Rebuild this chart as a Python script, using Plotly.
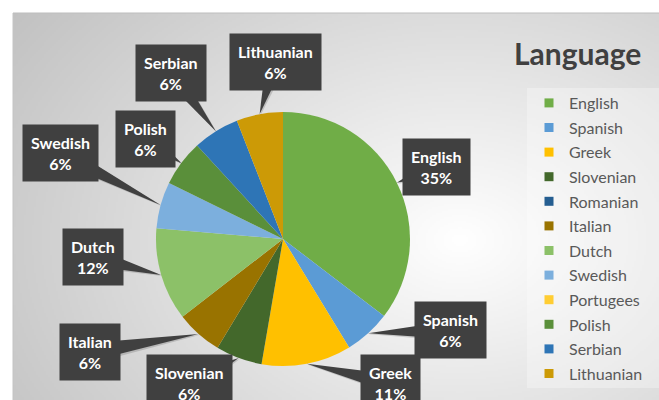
import math, zlib, struct, base64
import numpy as np
import plotly.graph_objects as go

# ---------------- data ----------------
languages = ["English", "Spanish", "Greek", "Slovenian", "Romanian", "Italian",
             "Dutch", "Swedish", "Portugees", "Polish", "Serbian", "Lithuanian"]
shares = [35.3, 5.9, 11.4, 5.9, 0, 5.9, 11.8, 5.9, 0, 5.9, 5.9, 5.9]
colors = ["#70AD47", "#5B9BD5", "#FFC000", "#43682B", "#255E91", "#997300",
          "#8CC168", "#7CAFDD", "#FFCD33", "#5A8F3A", "#2E75B6", "#CC9A06"]
chart_title = "Language"

# ---------------- layout constants (pixels) ----------------
W, H = 659, 400
PIE_CX, PIE_CY, PIE_R = 283, 239, 127
label_box_px = {
    "English": (436, 167), "Spanish": (450, 330), "Greek": (390, 383),
    "Slovenian": (189, 383), "Italian": (90, 352), "Dutch": (93, 257),
    "Swedish": (60, 153), "Polish": (145, 139), "Serbian": (171, 73),
    "Lithuanian": (275, 62),
}


def px(x):
    return x / W


def py(y):
    return 1 - y / H


# ---------------- background gradient image ----------------
def make_png(arr):
    h, w, _ = arr.shape
    raw = b"".join(b"\x00" + arr[i].tobytes() for i in range(h))

    def chunk(t, d):
        c = struct.pack(">I", len(d)) + t + d
        return c + struct.pack(">I", zlib.crc32(t + d) & 0xffffffff)
    return (b"\x89PNG\r\n\x1a\n" + chunk(b"IHDR", struct.pack(">IIBBBBB", w, h, 8, 2, 0, 0, 0))
            + chunk(b"IDAT", zlib.compress(raw, 9)) + chunk(b"IEND", b""))


BX0, BY0 = 13, 13
bw, bh = W - BX0, H - BY0
iw, ih = 323, 194
xs = BX0 + (np.arange(iw) + 0.5) * bw / iw
ys = BY0 + (np.arange(ih) + 0.5) * bh / ih
X, Y = np.meshgrid(xs, ys)
d = np.sqrt((X - 460) ** 2 + (1.4 * (Y - 240)) ** 2)
v = np.clip(255 - 56 * d / 500, 188, 255).astype(np.uint8)
img = np.stack([v, v, v], axis=-1)
src = "data:image/png;base64," + base64.b64encode(make_png(img)).decode()

# ---------------- figure ----------------
fig = go.Figure()
fig.add_trace(go.Pie(
    labels=languages, values=shares, sort=False, direction="clockwise", rotation=0,
    marker=dict(colors=colors, line=dict(width=0)), textinfo="none", showlegend=False,
    domain=dict(x=[px(PIE_CX - PIE_R), px(PIE_CX + PIE_R)],
                y=[py(PIE_CY + PIE_R), py(PIE_CY - PIE_R)]),
    hoverinfo="label+percent",
))

for lang, col in zip(languages, colors):
    fig.add_trace(go.Scatter(x=[None], y=[None], mode="markers", name=lang,
                             legendgroup=lang, showlegend=True,
                             marker=dict(symbol="square", size=9, color=col)))

shapes = []
annotations = []
total = sum(shares)
cum = 0.0
for lang, val in zip(languages, shares):
    if val > 0:
        mid = (cum + val / 2) / total * 2 * math.pi
        tx = PIE_CX + PIE_R * math.sin(mid)
        ty = PIE_CY - PIE_R * math.cos(mid)
        bx, by = label_box_px[lang]
        dx, dy = tx - bx, ty - by
        L = math.hypot(dx, dy)
        nx, ny = -dy / L, dx / L
        hw = 9
        p1 = (bx + hw * nx, by + hw * ny)
        p2 = (bx - hw * nx, by - hw * ny)
        # soft shadow of the tail
        spath = "M{:.4f},{:.4f} L{:.4f},{:.4f} L{:.4f},{:.4f} Z".format(
            px(p1[0] + 2), py(p1[1] + 2), px(p2[0] + 2), py(p2[1] + 2), px(tx + 1), py(ty + 1))
        shapes.append(dict(type="path", path=spath, xref="paper", yref="paper",
                           fillcolor="rgba(0,0,0,0.15)", line=dict(width=0), layer="above"))
        path = "M{:.4f},{:.4f} L{:.4f},{:.4f} L{:.4f},{:.4f} Z".format(
            px(p1[0]), py(p1[1]), px(p2[0]), py(p2[1]), px(tx), py(ty))
        shapes.append(dict(type="path", path=path, xref="paper", yref="paper",
                           fillcolor="#404040", line=dict(width=0), layer="above"))
        pct = round(val / total * 100)
        annotations.append(dict(x=px(bx), y=py(by), xref="paper", yref="paper",
                                text=f"{lang}<br>{pct}%", showarrow=False,
                                xanchor="center", yanchor="middle", borderpad=8,
                                font=dict(family="Lato", size=16, color="white", weight="bold"),
                                bgcolor="#404040"))
    cum += val

annotations.append(dict(x=px(577), y=py(53), xref="paper", yref="paper", text=chart_title,
                        showarrow=False, xanchor="center", yanchor="middle",
                        font=dict(family="Lato", size=30, color="#404040", weight="bold")))

# legend panel
shapes.insert(0, dict(type="rect", xref="paper", yref="paper", x0=px(527), x1=1.0,
                      y0=py(388), y1=py(88), fillcolor="rgba(255,255,255,0.3)",
                      line=dict(width=0), layer="below"))
# top/left edge of chart area
shapes.insert(0, dict(type="line", xref="paper", yref="paper", x0=px(BX0), x1=1.0,
                      y0=py(BY0), y1=py(BY0), line=dict(color="#bdbdbd", width=1), layer="below"))
shapes.insert(0, dict(type="line", xref="paper", yref="paper", x0=px(BX0), x1=px(BX0),
                      y0=0, y1=py(BY0), line=dict(color="#c4c4c4", width=1), layer="below"))

fig.update_layout(
    width=W, height=H, margin=dict(l=0, r=0, t=0, b=0),
    paper_bgcolor="white", plot_bgcolor="rgba(0,0,0,0)",
    xaxis=dict(visible=False), yaxis=dict(visible=False),
    images=[dict(source=src, xref="paper", yref="paper", x=px(BX0), y=py(BY0),
                 sizex=bw / W, sizey=bh / H, xanchor="left", yanchor="top",
                 sizing="stretch", layer="below")],
    shapes=shapes, annotations=annotations,
    legend=dict(x=px(529), y=py(86), xanchor="left", yanchor="top",
                bgcolor="rgba(0,0,0,0)", font=dict(family="Lato", size=16, color="#595959"),
                tracegroupgap=0.8),
    showlegend=True,
)

fig.write_html("out.html")
